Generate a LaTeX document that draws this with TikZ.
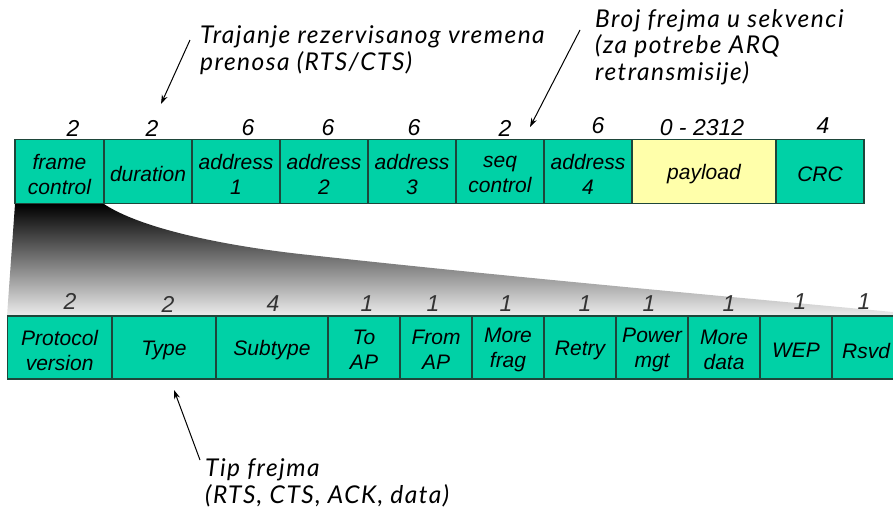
\documentclass[tikz,border=0pt]{standalone}
\usepackage{fontspec}
\setmainfont{Liberation Sans}
\newfontfamily\annfont{Lato}[LetterSpace=6]
\usetikzlibrary{arrows.meta}
\definecolor{fieldfill}{RGB}{0,209,166}
\definecolor{fieldline}{RGB}{30,70,58}
\definecolor{payfill}{RGB}{255,255,170}
\definecolor{bitgray}{RGB}{51,51,51}
\begin{document}
\begin{tikzpicture}[x=1pt,y=-1pt,
  fld/.style={draw=fieldline, fill=fieldfill, line width=1.1pt, inner sep=0pt},
  topfld/.style={fld, minimum height=64pt},
  botfld/.style={fld, minimum height=63pt},
  fldtxt/.style={inner sep=0pt, align=center, font=\fontsize{21}{25}\selectfont\itshape},
  topnum/.style={font=\fontsize{23}{26}\selectfont\itshape, inner sep=0pt},
  botnum/.style={topnum, text=bitgray},
  ann/.style={font=\annfont\fontsize{24.5}{26.5}\selectfont\itshape, align=left, inner sep=0pt, anchor=west},
  pointer/.style={-{Stealth[length=9pt,width=6pt]}, line width=1pt}
]
\useasboundingbox (0,0) rectangle (893,512);

% fan-out shading from frame control to the detailed row
\shade[top color=black, bottom color=white!93!black]
  (15,204) -- (104,204) .. controls (140,228) and (220,245) .. (300,254)
  .. controls (500,276) and (700,294) .. (893,312) -- (893,316) -- (7,316) -- cycle;

% top row: MAC frame
\node[topfld, minimum width=89pt] (fc)  at (59.5,171.3) {};
\node[topfld, minimum width=88pt] (dur) at (148,171.3) {};
\node[topfld, minimum width=88pt] (a1)  at (236,171.3) {};
\node[topfld, minimum width=88pt] (a2)  at (324,171.3) {};
\node[topfld, minimum width=88pt] (a3)  at (412,171.3) {};
\node[topfld, minimum width=88pt] (seq) at (500,171.3) {};
\node[topfld, minimum width=88pt] (a4)  at (588,171.3) {};
\node[topfld, minimum width=144pt, fill=payfill] (pay) at (704,171.3) {};
\node[topfld, minimum width=88pt] (crc) at (820,171.3) {};

\node[fldtxt] (fct)  at ([yshift=-3.5pt]fc.center)  {frame\\control};
\node[fldtxt] (durt) at ([yshift=-3pt]dur.center) {duration};
\node[fldtxt] (a1t)  at ([yshift=-3.5pt]a1.center)  {address\\1};
\node[fldtxt] (a2t)  at ([yshift=-3.5pt]a2.center)  {address\\2};
\node[fldtxt] (a3t)  at ([yshift=-3.5pt]a3.center)  {address\\3};
\node[fldtxt] (seqt) at ([yshift=-3.5pt]seq.center) {seq\\control};
\node[fldtxt] (a4t)  at ([yshift=-3.5pt]a4.center)  {address\\4};
\node[fldtxt] (payt) at ([yshift=-3pt]pay.center) {payload};
\node[fldtxt] (crct) at ([yshift=-3pt]crc.center) {CRC};

% top row sizes
\node[topnum] (n1) at (73,128) {2};
\node[topnum] (n2) at (152,128) {2};
\node[topnum] (n3) at (248,128) {6};
\node[topnum] (n4) at (328,128) {6};
\node[topnum] (n5) at (414,128) {6};
\node[topnum] (n6) at (505,128) {2};
\node[topnum] (n7) at (598,126) {6};
\node[topnum] (n8) at (702,128) {0 - 2312};
\node[topnum] (n9) at (823,126) {4};

% bottom row: frame control field
\node[botfld, minimum width=104.7pt] (pv)  at (59.65,347.5) {};
\node[botfld, minimum width=104pt] (ty)  at (164,347.5) {};
\node[botfld, minimum width=112pt] (st)  at (272,347.5) {};
\node[botfld, minimum width=72pt] (to)  at (364,347.5) {};
\node[botfld, minimum width=72pt] (fr)  at (436,347.5) {};
\node[botfld, minimum width=72pt] (mf)  at (508,347.5) {};
\node[botfld, minimum width=72pt] (re)  at (580,347.5) {};
\node[botfld, minimum width=72pt] (pm)  at (652,347.5) {};
\node[botfld, minimum width=72pt] (md)  at (724,347.5) {};
\node[botfld, minimum width=72pt] (wep) at (796,347.5) {};
\node[botfld, minimum width=68pt] (rs)  at (866,347.5) {};

\node[fldtxt] (pvt)  at ([yshift=-2.5pt]pv.center)  {Protocol\\version};
\node[fldtxt] (tyt)  at ([yshift=-3pt]ty.center)  {Type};
\node[fldtxt] (stt)  at ([yshift=-3pt]st.center)  {Subtype};
\node[fldtxt] (tot)  at ([yshift=-2.5pt]to.center)  {To\\AP};
\node[fldtxt] (frt)  at ([yshift=-2.5pt]fr.center)  {From\\AP};
\node[fldtxt] (mft)  at ([yshift=-2.5pt]mf.center)  {More\\frag};
\node[fldtxt] (ret)  at ([yshift=-3pt]re.center)  {Retry};
\node[fldtxt] (pmt)  at ([yshift=-2.5pt]pm.center)  {Power\\mgt};
\node[fldtxt] (mdt)  at ([yshift=-2.5pt]md.center)  {More\\data};
\node[fldtxt] (wept) at ([yshift=-3pt]wep.center) {WEP};
\node[fldtxt] (rst)  at ([yshift=-3pt]rs.center)  {Rsvd};

% bottom row sizes
\node[botnum] (b1) at (70,301) {2};
\node[botnum] (b2) at (168,304) {2};
\node[botnum] (b3) at (273,304) {4};
\node[botnum] (b4) at (367,304) {1};
\node[botnum] (b5) at (433,304) {1};
\node[botnum] (b6) at (506,304) {1};
\node[botnum] (b7) at (585,304) {1};
\node[botnum] (b8) at (649,304) {1};
\node[botnum] (b9) at (729,304) {1};
\node[botnum] (b10) at (800,302) {1};
\node[botnum] (b11) at (864,302) {1};

% annotations
\node[ann] (tdur) at (200,50) {Trajanje rezervisanog vremena\\prenosa (RTS/CTS)};
\node[ann] (tseq) at (595,47) {Broj frejma u sekvenci\\(za potrebe ARQ\\retransmisije)};
\node[ann] (ttyp) at (205,483) {Tip frejma\\(RTS, CTS, ACK, data)};

\coordinate (pdur0) at (190,40);
\coordinate (pdur1) at (161,104);
\coordinate (pseq0) at (580,30);
\coordinate (pseq1) at (530,127);
\coordinate (ptyp0) at (200,460);
\coordinate (ptyp1) at (174,390);
\draw[pointer] (pdur0) -- (pdur1);
\draw[pointer] (pseq0) -- (pseq1);
\draw[pointer] (ptyp0) -- (ptyp1);
\end{tikzpicture}
\end{document}
